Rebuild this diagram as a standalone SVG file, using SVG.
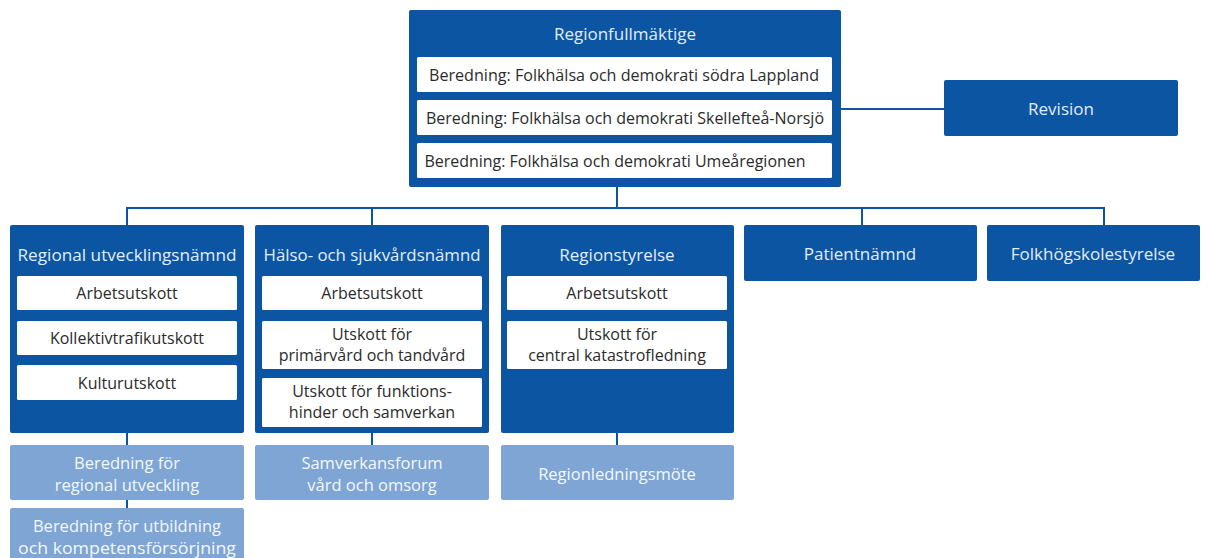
<svg xmlns="http://www.w3.org/2000/svg" width="1209" height="558" viewBox="0 0 1209 558">
<style>
.d{fill:#0b55a3}
.l{fill:#7ea5d3}
.w{fill:#ffffff}
text{font-family:"Open Sans","Noto Sans",sans-serif;text-anchor:middle;dominant-baseline:central}
.tt{fill:#e3edf8;font-size:17px}
.wt{fill:#2b2b2b;font-size:16px}
.lt{fill:#f4f8fc;font-size:16.5px}
.c{stroke:#0b55a3;stroke-width:2;fill:none}
</style>
<rect width="1209" height="558" fill="#ffffff"/>
<g id="connectors">
<path class="c" d="M617 187V208M127 225V208H1104V225M372 208V225M862 208V225M841 109H944"/>
<path class="c" d="M127 433V445M127 500V508M372 433V445M617 433V445"/>
</g>
<g id="regionfullmaktige">
<rect class="d" x="409" y="10" width="432" height="177" rx="2"/>
<text class="tt" x="625" y="33">Regionfullmäktige</text>
<rect class="w" x="417" y="57" width="415" height="35" rx="1.5"/>
<text class="wt" x="624" y="74.5" textLength="390" lengthAdjust="spacingAndGlyphs">Beredning: Folkhälsa och demokrati södra Lappland</text>
<rect class="w" x="417" y="100" width="415" height="35" rx="1.5"/>
<text class="wt" x="625" y="117.5" textLength="398" lengthAdjust="spacingAndGlyphs">Beredning: Folkhälsa och demokrati Skellefteå-Norsjö</text>
<rect class="w" x="417" y="143" width="415" height="35" rx="1.5"/>
<text class="wt" x="615" y="160.5" textLength="381" lengthAdjust="spacingAndGlyphs">Beredning: Folkhälsa och demokrati Umeåregionen</text>
</g>
<g id="revision">
<rect class="d" x="944" y="80" width="234" height="56" rx="2"/>
<text class="tt" x="1061" y="108">Revision</text>
</g>
<g id="regional">
<rect class="d" x="10" y="225" width="234" height="208" rx="2"/>
<text class="tt" x="127" y="254" textLength="219" lengthAdjust="spacingAndGlyphs">Regional utvecklingsnämnd</text>
<rect class="w" x="17" y="276" width="220" height="34" rx="1.5"/>
<text class="wt" x="127" y="293">Arbetsutskott</text>
<rect class="w" x="17" y="321" width="220" height="34" rx="1.5"/>
<text class="wt" x="127" y="338">Kollektivtrafikutskott</text>
<rect class="w" x="17" y="365" width="220" height="35" rx="1.5"/>
<text class="wt" x="127" y="382.5">Kulturutskott</text>
</g>
<g id="halso">
<rect class="d" x="255" y="225" width="234" height="208" rx="2"/>
<text class="tt" x="372" y="254" textLength="217" lengthAdjust="spacingAndGlyphs">Hälso- och sjukvårdsnämnd</text>
<rect class="w" x="262" y="276" width="220" height="34" rx="1.5"/>
<text class="wt" x="372" y="293">Arbetsutskott</text>
<rect class="w" x="262" y="321" width="220" height="48" rx="1.5"/>
<text class="wt" x="372" y="334">Utskott för</text>
<text class="wt" x="372" y="355">primärvård och tandvård</text>
<rect class="w" x="262" y="378" width="220" height="49" rx="1.5"/>
<text class="wt" x="372" y="391">Utskott för funktions-</text>
<text class="wt" x="372" y="412">hinder och samverkan</text>
</g>
<g id="regionstyrelse">
<rect class="d" x="501" y="225" width="233" height="208" rx="2"/>
<text class="tt" x="617" y="254">Regionstyrelse</text>
<rect class="w" x="507" y="276" width="220" height="34" rx="1.5"/>
<text class="wt" x="617" y="293">Arbetsutskott</text>
<rect class="w" x="507" y="321" width="220" height="48" rx="1.5"/>
<text class="wt" x="617" y="334">Utskott för</text>
<text class="wt" x="617" y="355">central katastrofledning</text>
</g>
<g id="patientnamnd">
<rect class="d" x="744" y="225" width="233" height="56" rx="2"/>
<text class="tt" x="860" y="253">Patientnämnd</text>
</g>
<g id="folkhogskolestyrelse">
<rect class="d" x="987" y="225" width="213" height="56" rx="2"/>
<text class="tt" x="1093" y="253">Folkhögskolestyrelse</text>
</g>
<g id="beredning-regional">
<rect class="l" x="10" y="445" width="234" height="55" rx="2"/>
<text class="lt" x="127" y="462">Beredning för</text>
<text class="lt" x="127" y="484">regional utveckling</text>
</g>
<g id="beredning-utbildning">
<rect class="l" x="10" y="508" width="234" height="60" rx="2"/>
<text class="lt" x="127" y="525">Beredning för utbildning</text>
<text class="lt" x="127" y="547" textLength="218" lengthAdjust="spacingAndGlyphs">och kompetensförsörjning</text>
</g>
<g id="samverkansforum">
<rect class="l" x="255" y="445" width="234" height="55" rx="2"/>
<text class="lt" x="372" y="462">Samverkansforum</text>
<text class="lt" x="372" y="484">vård och omsorg</text>
</g>
<g id="regionledningsmote">
<rect class="l" x="501" y="445" width="233" height="55" rx="2"/>
<text class="lt" x="617" y="473">Regionledningsmöte</text>
</g>
</svg>
